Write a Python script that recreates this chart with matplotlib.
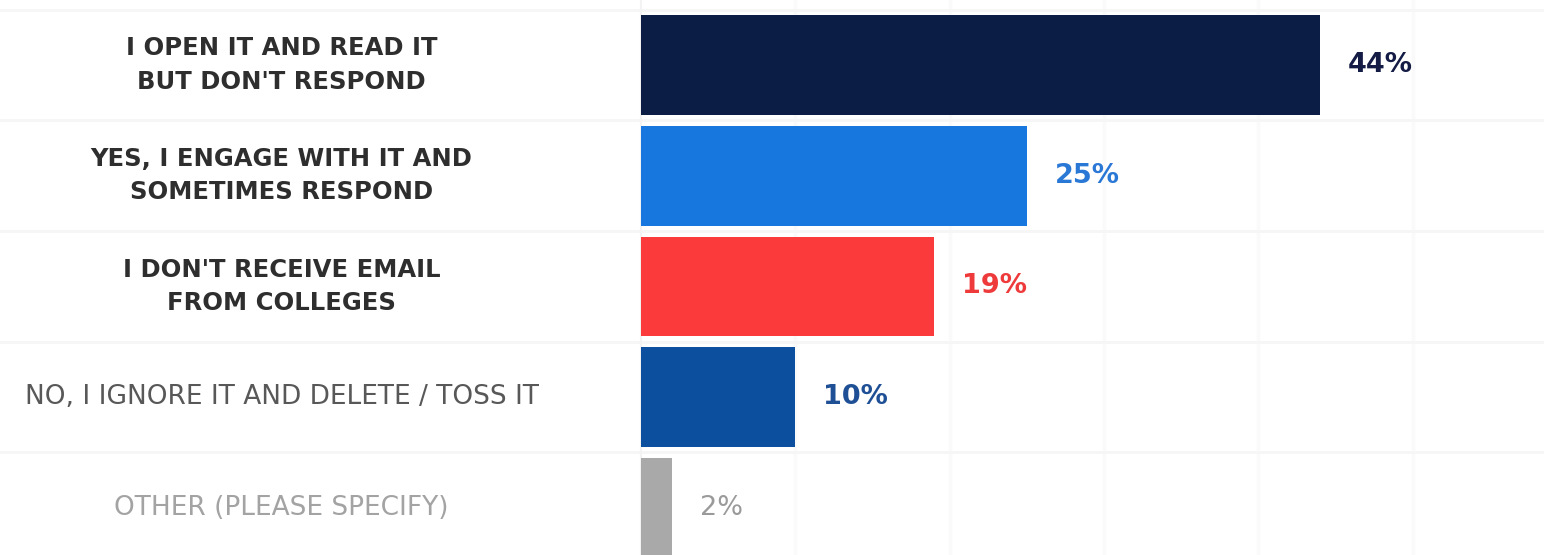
import matplotlib.pyplot as plt
import matplotlib.transforms as mtransforms

# survey answers, top to bottom
answers = [
    "I OPEN IT AND READ IT\nBUT DON'T RESPOND",
    "YES, I ENGAGE WITH IT AND\nSOMETIMES RESPOND",
    "I DON'T RECEIVE EMAIL\nFROM COLLEGES",
    "NO, I IGNORE IT AND DELETE / TOSS IT",
    "OTHER (PLEASE SPECIFY)",
]
shares = [44, 25, 19, 10, 2]

bar_colors = ['#0b1d45', '#1877df', '#fb3a3b', '#0c4f9e', '#a9a9a9']
value_colors = ['#141c45', '#2a78d6', '#ee3a3a', '#1f4f95', '#9a9a9a']
value_weights = ['bold', 'bold', 'bold', 'semibold', 'normal']
label_colors = ['#2e2e2e', '#2e2e2e', '#2e2e2e', '#585858', '#a3a3a3']
label_weights = ['bold', 'bold', 'bold', 'normal', 'normal']
label_sizes = [17.5, 17.5, 17.5, 19, 19]

plt.rcParams['font.family'] = ['DejaVu Sans']

fig = plt.figure(figsize=(15.44, 5.55), dpi=100)
fig.patch.set_facecolor('white')
ax = fig.add_axes([641 / 1544, 0, 903 / 1544, 1])

y = list(range(len(shares)))
ax.barh(y, shares, height=0.9, color=bar_colors, zorder=3)

ax.set_xlim(0, 58.5)
ax.set_ylim(4.426, -0.587)

# barely visible vertical grid every 10%
for gx in range(10, 60, 10):
    ax.axvline(gx, color='#fafafa', lw=2.5, zorder=1)

trans = mtransforms.blended_transform_factory(ax.transAxes, ax.transData)

# faint row separators across the whole width
for sep in [i + 0.5 for i in range(len(shares) - 1)] + [-0.5]:
    ax.plot([-0.72, 1.0], [sep, sep], transform=trans,
            color='#f6f6f6', lw=2, clip_on=False, zorder=1)

# value labels to the right of each bar
for yi, v, c, w in zip(y, shares, value_colors, value_weights):
    ax.annotate(f'{v}%', xy=(v, yi), xytext=(28, 0), textcoords='offset pixels',
                ha='left', va='center', fontsize=19.5, color=c, fontweight=w)

# category labels in the left panel
for yi, lab, c, w, fs in zip(y, answers, label_colors, label_weights, label_sizes):
    ax.text(-0.398, yi, lab, transform=trans, ha='center', va='center',
            fontsize=fs, color=c, fontweight=w, linespacing=1.5)

# thin divider between the label panel and the bars
ax.plot([-0.016, -0.016], [-0.587, 4.426], color='#f3f3f3', lw=1.5, clip_on=False, zorder=1)

for s in ax.spines.values():
    s.set_visible(False)
ax.set_xticks([])
ax.set_yticks([])

fig.savefig('out.png', dpi=100, facecolor='white')
